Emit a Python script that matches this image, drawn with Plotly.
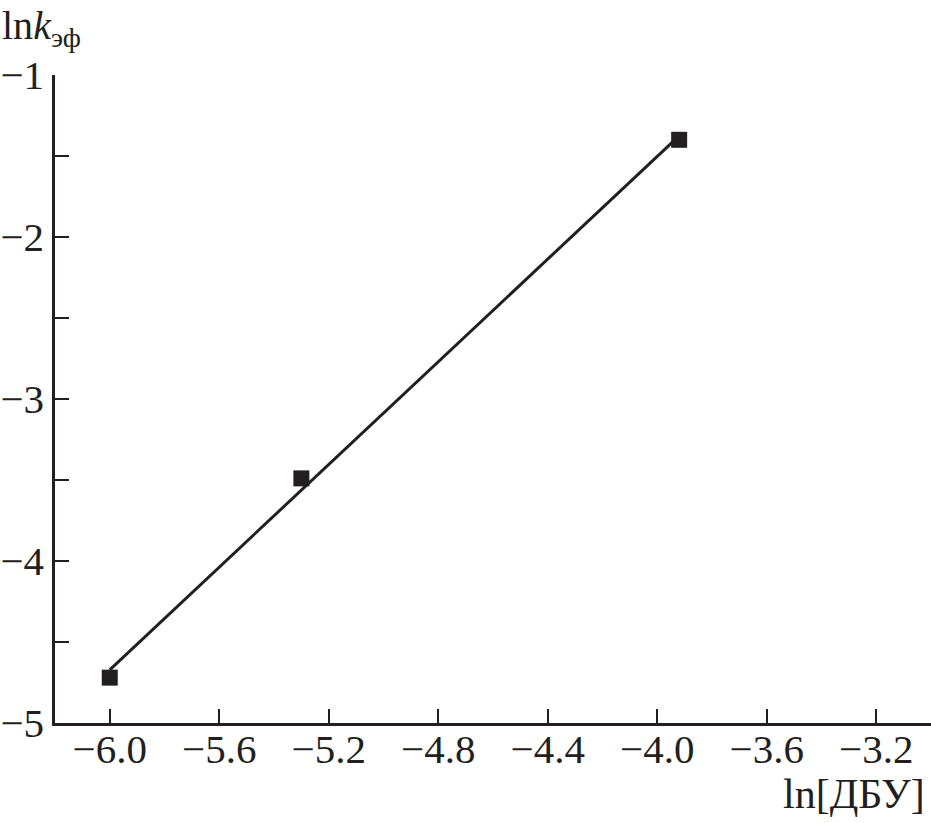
import numpy as np
import plotly.graph_objects as go

ln_dbu = [-6.0, -5.3, -3.92]
ln_k = [-4.72, -3.49, -1.40]

x_ticks = [-6.0, -5.6, -5.2, -4.8, -4.4, -4.0, -3.6, -3.2]
x_ticktext = ["−6.0", "−5.6", "−5.2", "−4.8", "−4.4", "−4.0", "−3.6", "−3.2"]
y_ticks = [-5, -4, -3, -2, -1]
y_ticktext = ["−5", "−4", "−3", "−2", "−1"]

slope, intercept = np.polyfit(ln_dbu, ln_k, 1)
fit_x = [min(ln_dbu), max(ln_dbu)]
fit_y = [slope * v + intercept for v in fit_x]

ink = "#231f20"
font = "Liberation Serif"
L, R, T, B = 55, 0, 75, 100
W, H = 931, 823
pw, ph = W - L - R, H - T - B

fig = go.Figure()
fig.add_trace(go.Scatter(x=fit_x, y=fit_y, mode="lines",
                         line=dict(color=ink, width=3), hoverinfo="skip"))
fig.add_trace(go.Scatter(x=ln_dbu, y=ln_k, mode="markers",
                         marker=dict(symbol="square", size=16, color=ink,
                                     line=dict(width=0))))

fig.update_layout(
    width=W, height=H,
    margin=dict(l=L, r=R, t=T, b=B, autoexpand=False),
    paper_bgcolor="white", plot_bgcolor="white",
    showlegend=False,
    font=dict(family=font, size=41, color=ink),
    xaxis=dict(range=[-6.2, -3.0], tickvals=x_ticks, ticktext=x_ticktext,
               ticks="inside", ticklen=14, tickwidth=2, tickcolor=ink,
               showline=True, linewidth=2.5, linecolor=ink,
               showgrid=False, zeroline=False, automargin=False,
               ticklabelstandoff=-12,
               tickfont=dict(family=font, size=41, color=ink)),
    yaxis=dict(range=[-5, -1], tickvals=y_ticks, ticktext=y_ticktext,
               ticks="inside", ticklen=14, tickwidth=2, tickcolor=ink,
               minor=dict(dtick=0.5, ticks="inside", ticklen=14, tickwidth=2,
                          tickcolor=ink, showgrid=False),
               showline=True, linewidth=2.5, linecolor=ink,
               showgrid=False, zeroline=False, automargin=False,
               tickfont=dict(family=font, size=41, color=ink)),
    annotations=[
        dict(text="ln<i>k</i><sub>эф</sub>", xref="paper", yref="paper",
             x=-L / pw, y=1 + (T - 1) / ph, xanchor="left", yanchor="top",
             showarrow=False, font=dict(family=font, size=40, color=ink)),
        dict(text="ln[ДБУ]", xref="paper", yref="paper",
             x=(927 - L) / pw, y=-(B - 4) / ph, xanchor="right", yanchor="bottom",
             showarrow=False, font=dict(family=font, size=42, color=ink)),
    ],
)

fig.write_html("out.html", config={"displayModeBar": False},
               post_script="document.body.style.margin='0';")
